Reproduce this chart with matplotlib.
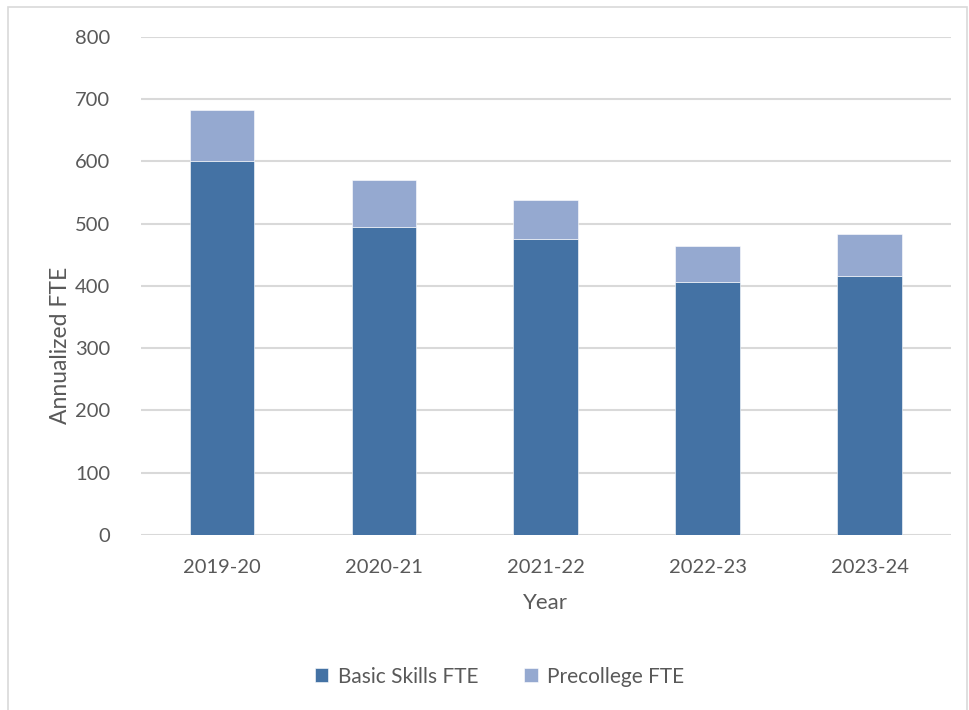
import matplotlib.pyplot as plt
from matplotlib.patches import Rectangle

plt.rcParams['font.family'] = ['Lato', 'DejaVu Sans']

years = ["2019-20", "2020-21", "2021-22", "2022-23", "2023-24"]
basic_skills = [601, 495, 476, 407, 416]
precollege = [81, 75, 62, 58, 67]

text_gray = "#595959"

fig = plt.figure(figsize=(9.7, 7.1), dpi=100)
ax = fig.add_axes([0.1454, 0.2465, 0.8346, 0.7014])

# outer chart frame
fig.patches.append(Rectangle((0.008, -0.01), 0.989, 1.0, transform=fig.transFigure,
                             fill=False, edgecolor="#d9d9d9", linewidth=1.2))

x = range(len(years))
ax.bar(x, basic_skills, width=0.4, color="#4472A4", edgecolor="#ffffff",
       linewidth=0.4, label="Basic Skills FTE", zorder=3)
ax.bar(x, precollege, width=0.4, bottom=basic_skills, color="#95A9D0",
       edgecolor="#ffffff", linewidth=0.4, label="Precollege FTE", zorder=3)

ax.set_xlim(-0.5, len(years) - 0.5)
ax.set_ylim(0, 800)
ax.set_yticks(range(0, 801, 100))
ax.set_xticks(list(x))
ax.set_xticklabels(years)
ax.grid(axis="y", color="#d9d9d9", linewidth=1.5, zorder=0)
for s in ax.spines.values():
    s.set_visible(False)
ax.tick_params(axis="both", length=0, labelsize=14.5, labelcolor=text_gray)
ax.tick_params(axis="y", pad=22)
ax.tick_params(axis="x", pad=17)

ax.set_xlabel("Year", fontsize=16, color=text_gray)
ax.xaxis.set_label_coords(0.5, -0.116)

# axis title sits a bit below the middle of the plot area
fig.text(0.062, 0.513, "Annualized FTE", rotation=90, ha="center", va="center",
         fontsize=16.5, color=text_gray)

leg = fig.legend(loc="center", bbox_to_anchor=(0.515, 0.047), ncol=2, frameon=False,
                 fontsize=15, handlelength=0.65, handleheight=0.65, handletextpad=0.45,
                 columnspacing=2.2)
for t in leg.get_texts():
    t.set_color(text_gray)

fig.savefig("out.png", dpi=100)
